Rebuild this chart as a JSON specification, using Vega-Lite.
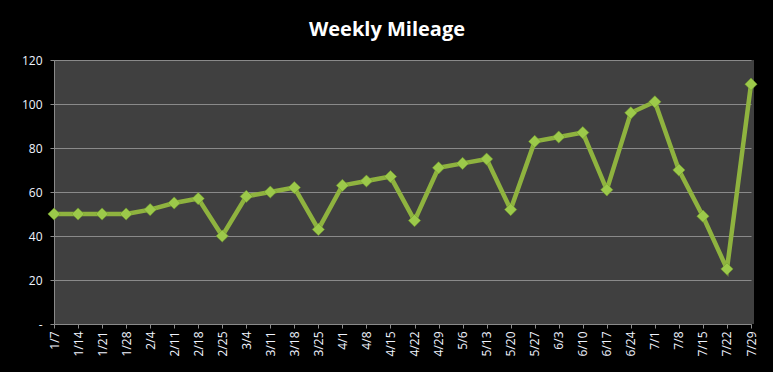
{
  "$schema": "https://vega.github.io/schema/vega-lite/v6.json",
  "width": 700,
  "height": 264,
  "autosize": {"type": "none"},
  "padding": {"left": 54, "top": 60, "right": 19, "bottom": 48},
  "background": "#000000",
  "title": {
    "text": "Weekly Mileage",
    "color": "#ffffff",
    "font": "Open Sans",
    "fontSize": 20,
    "fontWeight": "bold",
    "anchor": "middle",
    "dx": -17,
    "offset": 14
  },
  "config": {
    "view": {"fill": "#404040", "stroke": null},
    "axis": {
      "labelColor": "#f0f4ff",
      "labelFont": "Open Sans",
      "labelFontSize": 12,
      "domainColor": "#8a8a8a",
      "tickColor": "#8a8a8a",
      "gridColor": "#8a8a8a",
      "tickSize": 4
    }
  },
  "data": {
    "values": [
      {"week": "1/7", "miles": 50},
      {"week": "1/14", "miles": 50},
      {"week": "1/21", "miles": 50},
      {"week": "1/28", "miles": 50},
      {"week": "2/4", "miles": 52},
      {"week": "2/11", "miles": 55},
      {"week": "2/18", "miles": 57},
      {"week": "2/25", "miles": 40},
      {"week": "3/4", "miles": 58},
      {"week": "3/11", "miles": 60},
      {"week": "3/18", "miles": 62},
      {"week": "3/25", "miles": 43},
      {"week": "4/1", "miles": 63},
      {"week": "4/8", "miles": 65},
      {"week": "4/15", "miles": 67},
      {"week": "4/22", "miles": 47},
      {"week": "4/29", "miles": 71},
      {"week": "5/6", "miles": 73},
      {"week": "5/13", "miles": 75},
      {"week": "5/20", "miles": 52},
      {"week": "5/27", "miles": 83},
      {"week": "6/3", "miles": 85},
      {"week": "6/10", "miles": 87},
      {"week": "6/17", "miles": 61},
      {"week": "6/24", "miles": 96},
      {"week": "7/1", "miles": 101},
      {"week": "7/8", "miles": 70},
      {"week": "7/15", "miles": 49},
      {"week": "7/22", "miles": 25},
      {"week": "7/29", "miles": 109}
    ]
  },
  "encoding": {
    "x": {
      "field": "week",
      "type": "ordinal",
      "sort": null,
      "scale": {"type": "point", "padding": 0, "range": [0, 697]},
      "axis": {"title": null, "labelAngle": 270, "labelAlign": "right", "labelBaseline": "middle", "labelPadding": 3, "grid": false}
    },
    "y": {
      "field": "miles",
      "type": "quantitative",
      "scale": {"domain": [0, 120]},
      "axis": {
        "title": null,
        "values": [0, 20, 40, 60, 80, 100, 120],
        "labelExpr": "datum.value == 0 ? '-' : datum.label",
        "labelPadding": 8,
        "grid": true
      }
    }
  },
  "layer": [
    {"mark": {"type": "line", "color": "#8fb33f", "strokeWidth": 4.5}},
    {"mark": {"type": "point", "shape": "diamond", "filled": true, "size": 150, "color": "#9cc94a", "opacity": 1, "stroke": "#6f9a2a", "strokeWidth": 0.5}}
  ]
}
